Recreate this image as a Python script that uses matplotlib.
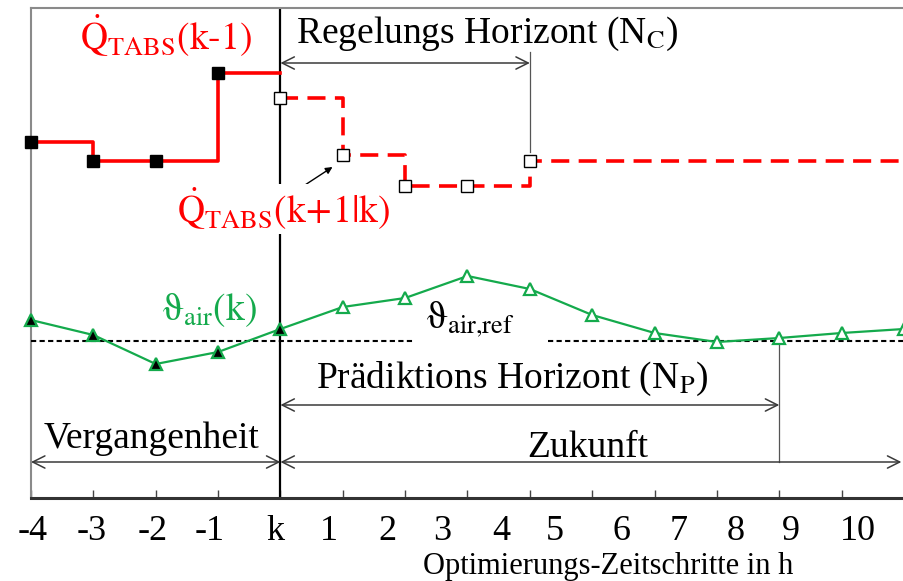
import matplotlib
matplotlib.use("Agg")
import matplotlib.pyplot as plt

plt.rcParams["font.family"] = ["Liberation Serif", "DejaVu Serif"]
plt.rcParams["mathtext.fontset"] = "stix"

# time steps (k = 0) and their labels
steps = [-4, -3, -2, -1, 0, 1, 2, 3, 4, 5, 6, 7, 8, 9, 10]
tick_labels = ["-4", "-3", "-2", "-1", "k", "1", "2", "3", "4", "5",
               "6", "7", "8", "9", "10"]
label_pos = [-3.98, -3.02, -2.05, -1.14, -0.08, 0.78, 1.71, 2.59, 3.54,
             4.40, 5.47, 6.38, 7.30, 8.18, 9.26]

# heat flow of the TABS: applied (past) and planned (future) control moves
q_past_steps = [-4, -3, -2, -1]
q_past = [35.6, 33.7, 33.7, 42.5]
q_plan_steps = [0, 1, 2, 3, 4]
q_plan = [40.0, 34.3, 31.2, 31.2, 33.7]

# air temperature: measured up to k, predicted afterwards
theta_air = [17.8, 16.3, 13.4, 14.6, 16.9, 19.1, 20.0, 22.2, 20.9, 18.3,
             16.5, 15.6, 16.0, 16.5, 16.9]
theta_ref = 15.7

N_C = 4   # control horizon
N_P = 8   # prediction horizon

XMIN, XMAX = -4, 9.968
RED = "#FF0000"
GREEN = "#14AA4C"
ARROW = "#3a3a3a"

fig = plt.figure(figsize=(9.04, 5.81), dpi=100)
ax = fig.add_axes([31 / 904, 83 / 581, 873 / 904, 490 / 581])
ax.set_xlim(XMIN, XMAX)
ax.set_ylim(0, 49)

# frame
for side in ("left", "top"):
    ax.spines[side].set_color("#8a8a8a")
    ax.spines[side].set_linewidth(1.5)
ax.spines["right"].set_visible(False)
ax.spines["bottom"].set_color("#333333")
ax.spines["bottom"].set_linewidth(2.2)
ax.set_yticks([])
ax.set_xticks(steps)
ax.set_xticklabels([])
ax.tick_params(axis="x", which="major", direction="in", length=6,
               width=1, color="#444444")
ax.set_xticks(label_pos, minor=True)
ax.set_xticklabels(tick_labels, minor=True, fontsize=26)
ax.tick_params(axis="x", which="minor", length=0, pad=12)
ax.text(5.26, -7.6, "Optimierungs-Zeitschritte in h", fontsize=22,
        ha="center", va="baseline", clip_on=False)

# present time k
ax.axvline(0, color="black", lw=1.6, zorder=2)

# reference temperature
ax.plot([XMIN, 2.144], [theta_ref, theta_ref], color="black", lw=1.5,
        dashes=(2.5, 1.6), zorder=3)
ax.plot([4.288, XMAX + 1], [theta_ref, theta_ref], color="black", lw=1.5,
        dashes=(2.5, 1.6), zorder=3)

# air temperature
n_past = 5
ax.plot(steps, theta_air, color=GREEN, lw=1.6, zorder=4, clip_on=False)
ax.plot(steps[:n_past], theta_air[:n_past], ls="none", marker="^",
        ms=8, mfc="black", mec=GREEN, mew=1.6, zorder=5, clip_on=False)
ax.plot(steps[n_past:], theta_air[n_past:], ls="none", marker="^",
        ms=8, mfc="white", mec=GREEN, mew=1.6, zorder=5)

# TABS heat flow, applied
ax.step(q_past_steps + [0], q_past + [q_past[-1]], where="post",
        color=RED, lw=2.6, zorder=4)
ax.plot(q_past_steps, q_past, ls="none", marker="s", ms=8,
        mfc="black", mec="black", zorder=5, clip_on=False)
# TABS heat flow, planned
ax.step(q_plan_steps + [XMAX + 1], q_plan + [q_plan[-1]], where="post",
        color=RED, lw=2.6, dashes=(5, 2.6), zorder=4)
ax.plot(q_plan_steps, q_plan, ls="none", marker="s", ms=8,
        mfc="white", mec="black", mew=1, zorder=5)

# horizons
arrow_kw = dict(arrowstyle="<->", color=ARROW, lw=1.1,
                shrinkA=0, shrinkB=0, mutation_scale=22)
ax.annotate("", xy=(0, 43.5), xytext=(N_C, 43.5), arrowprops=arrow_kw)
ax.plot([N_C, N_C], [34.6, 44.6], color="#555555", lw=0.9)
ax.text(0.256, 45.5, r"Regelungs Horizont (N$_\mathrm{C}$)", fontsize=27,
        ha="left", va="baseline")

ax.annotate("", xy=(N_P, 9.3), xytext=(0, 9.3), arrowprops=arrow_kw)
ax.plot([N_P, N_P], [3.6, 15.8], color="#555555", lw=0.9)
ax.text(0.576, 11.0, r"Prädiktions Horizont (N$_\mathrm{P}$)", fontsize=27,
        ha="left", va="baseline")

ax.annotate("", xy=(XMIN, 3.6), xytext=(0, 3.6), arrowprops=arrow_kw)
ax.annotate("", xy=(XMAX - 0.01, 3.6), xytext=(0, 3.6), arrowprops=arrow_kw)
ax.text(-2.06, 5.0, "Vergangenheit", fontsize=27, ha="center", va="baseline")
ax.text(4.93, 4.1, "Zukunft", fontsize=27, ha="center", va="baseline")

# series labels
ax.text(-3.216, 44.8, r"$\mathrm{\dot{Q}_{TABS}(k\text{-}1)}$", fontsize=27,
        color=RED, ha="left", va="baseline")
ax.text(-1.664, 27.5, r"$\mathrm{\dot{Q}_{TABS}(k\!+\!1|k)}$", fontsize=27,
        color=RED, ha="left", va="baseline", zorder=6,
        bbox=dict(boxstyle="square,pad=0.05", fc="white", ec="none"))
ax.annotate("", xy=(0.835, 33.1), xytext=(0.32, 31.0),
            arrowprops=dict(arrowstyle="-|>", color="black", lw=1,
                            mutation_scale=10, shrinkA=0, shrinkB=0))
ax.text(-1.904, 17.8, r"$\mathrm{\vartheta_{air}(k)}$", fontsize=27,
        color=GREEN, ha="left", va="baseline")
ax.text(2.336, 17.0, r"$\mathrm{\vartheta_{air{,}ref}}$", fontsize=27,
        color="black", ha="left", va="baseline")

fig.savefig("out.png", dpi=100)
